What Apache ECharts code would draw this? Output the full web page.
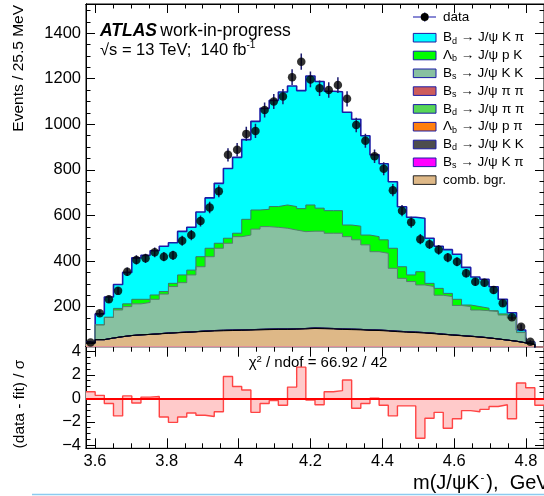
<!DOCTYPE html>
<html>
<head>
<meta charset="utf-8">
<script src="https://cdn.jsdelivr.net/npm/echarts@6/dist/echarts.min.js"></script>
<style>
html,body{margin:0;padding:0;background:#fff;}
#chart{width:544px;height:496px;}
</style>
</head>
<body>
<div id="chart"></div>
<script>
// Binning of m(J/psi K-) in GeV: 50 bins of 25.5 MeV
const binLow = 3.575;
const binWidth = 0.0255;

// Observed events per bin
const data = [42,171,232,269,353,405,412,438,419,425, 489,514,576,635,706,866,888,958,971,1063,
  1100,1122,1207,1275,1197,1158,1151,1172,1112,997, 928,860,805,711,621,570,496,474,449,415,
  397,346,309,305,273,215,153,112,46,12];

// Fit components (events per bin), listed from the bottom of the stack up
const combBgr = [40,55,62,68,73,76,78,80,83,85, 87,89,91,93,94,95,96,97,98,99,
  100,100,101,102,104,103,102,100,99,98, 96,95,93,90,88,86,84,81,78,75,
  72,69,66,62,58,53,48,41,34,14];
const bsKpi = [0,0,0,0,0,0,0,1,1,1, 1,1,1,1,1,1,1,1,1,1, 1,1,1,1,1,1,1,1,1,1,
  1,1,1,1,1,1,1,1,1,1, 1,1,1,1,0,0,0,0,0,0];
const bdKK = [0,0,0,0,0,0,0,0,0,0, 0,0,1,1,1,1,1,1,1,1, 1,1,1,1,1,1,1,1,1,1,
  1,1,1,1,1,1,1,1,0,0, 0,0,0,0,0,0,0,0,0,0];
const lbPpi = [0,0,0,0,0,0,0,0,0,0, 0,0,0,0,0,0,0,0,0,0, 0,0,0,0,0,0,0,0,0,0,
  0,0,0,0,0,0,0,0,0,0, 0,0,0,0,0,0,0,0,0,0];
const bdPipi = [0,0,0,0,0,0,0,0,0,0, 0,0,0,0,0,0,0,0,0,0, 0,0,0,0,0,0,0,0,0,0,
  0,0,0,0,0,0,0,0,0,0, 0,0,0,0,0,0,0,0,0,0];
const bsPipi = [0,0,0,0,0,0,0,0,0,0, 0,0,0,0,0,0,0,0,0,0, 0,0,0,0,0,0,0,0,0,0,
  0,0,0,0,0,0,0,0,0,0, 0,0,0,0,0,0,0,0,0,0];
const bsKK = [2,65,91,117,127,136,140,151,171,202, 217,249,282,324,360,381,409,415,440,450,
  446,442,433,425,425,426,418,420,406,393, 373,344,339,276,234,222,209,205,171,168,
  132,130,118,119,120,110,101,45,6,0];
const lbPK = [0,0,0,7,12,20,14,19,11,14, 34,21,44,37,22,22,15,69,84,76,
  91,102,103,101,115,101,99,99,51,60, 43,66,59,88,51,29,58,14,30,14,
  27,7,15,11,4,5,3,2,1,0];
const bdKpi = [2,48,89,105,138,182,193,194,199,178, 191,188,196,221,263,306,333,350,389,443,
  466,496,529,518,566,556,524,522,495,469, 436,359,334,292,263,253,235,198,185,192,
  198,165,130,127,105,64,21,9,3,0];

// Pull per bin: (data - fit) / sigma
const pull = [0.55,0.25,-0.45,-1.5,0.2,-0.4,0.1,0.15,-1.6,-2.05, -1.6,-1.25,-1.45,-1.55,-1.15,1.85,1.0,0.7,-1.2,-0.45,
  -0.2,-0.6,0.95,2.65,-0.15,-0.55,0.55,0.65,1.55,-0.85, -0.45,0.0,-0.6,-1.5,-0.65,-0.65,-3.4,-1.7,-1.2,-2.55,
  -1.75,-1.05,-1.15,-0.95,-0.7,-0.55,-1.75,1.3,0.9,-0.6];

// Axis ticks
const xMajor = [3.6,3.8,4.0,4.2,4.4,4.6,4.8];
const xMinor = [3.65,3.7,3.75,3.85,3.9,3.95,4.05,4.1,4.15,4.25,4.3,4.35,4.45,4.5,4.55,4.65,4.7,4.75,4.85];
const yMajor = [200,400,600,800,1000,1200,1400];
const yMinor = [50,100,150,250,300,350,450,500,550,650,700,750,850,900,950,1050,1100,1150,1250,1300,1350,1450,1500];
const pullMajor = [-4,-2,0,2,4];
const pullMinor = [-3.5,-3,-2.5,-1.5,-1,-0.5,0.5,1,1.5,2.5,3,3.5];

const xMin = binLow, xMax = binLow + data.length * binWidth;
const yMin = 24, yMax = 1528;
const pMin = -4.26, pMax = 4.39;

const FONT = 'Liberation Sans, Arial, Helvetica, sans-serif';

// histogram as step points on bin edges
function steps(vals) {
  const pts = vals.map((v, i) => [binLow + i * binWidth, v]);
  pts.push([binLow + vals.length * binWidth, vals[vals.length - 1]]);
  return pts;
}

const gridTop = {left: 86, top: 4, width: 460.5, height: 342.7};
const gridPull = {left: 86, top: 346.7, width: 460.5, height: 101.6};

function axis(grid, pos, min, max, ticks, len, label) {
  return {
    type: 'value', gridIndex: grid, position: pos, min: min, max: max,
    splitLine: {show: false},
    axisLine: {show: true, onZero: false, lineStyle: {color: '#000', width: 1}},
    axisTick: {show: true, inside: true, length: len, customValues: ticks, lineStyle: {color: '#000', width: 1}},
    axisLabel: label ? Object.assign({show: true, customValues: ticks, color: '#000', fontFamily: FONT}, label) : {show: false}
  };
}

const xAxes = [
  axis(0, 'bottom', xMin, xMax, xMajor, 9, null),
  axis(0, 'top', xMin, xMax, xMajor, 9, null),
  axis(1, 'bottom', xMin, xMax, xMinor, 4.5, null),
  axis(1, 'top', xMin, xMax, xMinor, 4.5, null),
  axis(2, 'bottom', xMin, xMax, xMajor, 10, {fontSize: 16.5, margin: 5,
    formatter: v => String(Number(v.toFixed(2)))}),
  axis(2, 'top', xMin, xMax, xMajor, 10, null),
  axis(3, 'bottom', xMin, xMax, xMinor, 5, null),
  axis(3, 'top', xMin, xMax, xMinor, 5, null)
];
const yAxes = [
  axis(0, 'left', yMin, yMax, yMajor, 9, {fontSize: 16.5, margin: 5, formatter: v => String(v)}),
  axis(0, 'right', yMin, yMax, yMajor, 9, null),
  axis(1, 'left', yMin, yMax, yMinor, 4.5, null),
  axis(1, 'right', yMin, yMax, yMinor, 4.5, null),
  axis(2, 'left', pMin, pMax, pullMajor, 9, {fontSize: 16.5, margin: 5,
    formatter: v => String(v).replace('-', '\u2212')}),
  axis(2, 'right', pMin, pMax, pullMajor, 9, null),
  axis(3, 'left', pMin, pMax, pullMinor, 4.5, null),
  axis(3, 'right', pMin, pMax, pullMinor, 4.5, null)
];

// fit components, bottom of the stack first
const components = [
  {name: 'comb. bgr.', vals: combBgr, fill: '#deb887', line: '#000000'},
  {name: 'Bs Kpi', vals: bsKpi, fill: '#ff00ff', line: '#1e1e5a'},
  {name: 'Bd KK', vals: bdKK, fill: '#4d4d4d', line: '#1e1e5a'},
  {name: 'Lb ppi', vals: lbPpi, fill: '#ff7f0e', line: '#1e1e5a'},
  {name: 'Bd pipi', vals: bdPipi, fill: '#57d657', line: '#1e1e5a'},
  {name: 'Bs pipi', vals: bsPipi, fill: '#cd5c5c', line: '#1e1e5a'},
  {name: 'Bs KK', vals: bsKK, fill: '#88c1a1', line: '#557f6c'},
  {name: 'Lb pK', vals: lbPK, fill: '#00ff00', line: '#3d7568'},
  {name: 'Bd Kpi', vals: bdKpi, fill: '#00ffff', line: '#1c1ca6'}
];

// running sums give the upper edge of each layer in the stack
let running = combBgr.map(() => 0);
components.forEach(c => {
  running = running.map((s, i) => s + c.vals[i]);
  c.top = running.slice();
});

// upper layers first, so every lower layer is painted over them
const series = components.slice().reverse().map((c, k) => ({
  type: 'line', name: c.name, xAxisIndex: 0, yAxisIndex: 0,
  data: steps(c.top), step: 'end', symbol: 'none',
  lineStyle: {color: c.line, width: k === 0 ? 1.6 : 1},
  areaStyle: {color: c.fill, opacity: 1, origin: 'auto'},
  z: 2, animation: false, silent: true
}));

// data points with Poisson error bars
series.push({
  type: 'custom', name: 'data-err', xAxisIndex: 0, yAxisIndex: 0, clip: true,
  data: data.map((n, i) => [binLow + (i + 0.5) * binWidth, n, Math.sqrt(n)]),
  renderItem: (params, api) => {
    const x = api.value(0), y = api.value(1), e = api.value(2);
    const a = api.coord([x, y - e]), b = api.coord([x, y + e]);
    return {type: 'line', shape: {x1: a[0], y1: a[1], x2: b[0], y2: b[1]},
      style: {stroke: '#1b1b70', lineWidth: 1.5}};
  },
  z: 4, animation: false, silent: true
});
series.push({
  type: 'scatter', name: 'data', xAxisIndex: 0, yAxisIndex: 0, clip: true,
  data: data.map((n, i) => [binLow + (i + 0.5) * binWidth, n]),
  symbol: 'circle', symbolSize: 8.5, itemStyle: {color: '#000'},
  z: 5, animation: false, silent: true
});

// pull histogram
series.push({
  type: 'line', name: 'pull', xAxisIndex: 4, yAxisIndex: 4,
  data: steps(pull), step: 'end', symbol: 'none',
  lineStyle: {color: '#ff4444', width: 1.4},
  areaStyle: {color: '#ffcaca', opacity: 1, origin: 'auto'},
  markLine: {silent: true, symbol: 'none', animation: false,
    label: {show: false}, lineStyle: {color: '#ff0000', width: 2, type: 'solid'},
    data: [{yAxis: 0}]},
  z: 2, animation: false, silent: true
});

// legend drawn as graphic rows
const legendRows = [
  {t: '{n|B}{s|d}{n| \u2192 J/\u03c8 K \u03c0}', fill: '#00ffff', line: '#1c1ca6'},
  {t: '{n|\u039b}{s|b}{n| \u2192 J/\u03c8 p K}', fill: '#00ff00', line: '#1c1ca6'},
  {t: '{n|B}{s|s}{n| \u2192 J/\u03c8 K K}', fill: '#88c1a1', line: '#1c1ca6'},
  {t: '{n|B}{s|s}{n| \u2192 J/\u03c8 \u03c0 \u03c0}', fill: '#cd5c5c', line: '#1c1ca6'},
  {t: '{n|B}{s|d}{n| \u2192 J/\u03c8 \u03c0 \u03c0}', fill: '#57d657', line: '#1c1ca6'},
  {t: '{n|\u039b}{s|b}{n| \u2192 J/\u03c8 p \u03c0}', fill: '#ff7f0e', line: '#1c1ca6'},
  {t: '{n|B}{s|d}{n| \u2192 J/\u03c8 K K}', fill: '#4d4d4d', line: '#1c1ca6'},
  {t: '{n|B}{s|s}{n| \u2192 J/\u03c8 K \u03c0}', fill: '#ff00ff', line: '#1c1ca6'},
  {t: '{n|comb. bgr.}', fill: '#deb887', line: '#222222'}
];
const legRich = {
  n: {fontSize: 13.5, fontFamily: FONT, fill: '#000'},
  s: {fontSize: 9, fontFamily: FONT, fill: '#000', padding: [7, 0, 0, 0]}
};
const legendEls = [];
legendEls.push({type: 'line', shape: {x1: 413, y1: 17, x2: 436, y2: 17}, style: {stroke: '#3a3ab8', lineWidth: 1.2}});
legendEls.push({type: 'line', shape: {x1: 424.7, y1: 12.5, x2: 424.7, y2: 21.5}, style: {stroke: '#1b1b70', lineWidth: 1.5}});
legendEls.push({type: 'circle', shape: {cx: 424.7, cy: 17, r: 4}, style: {fill: '#000'}});
legendEls.push({type: 'text', x: 443, y: 17, style: {text: '{n|data}', rich: legRich, verticalAlign: 'middle'}});
legendRows.forEach((r, i) => {
  const cy = 37.7 + i * 17.8;
  legendEls.push({type: 'rect', shape: {x: 413.3, y: cy - 4.3, width: 22.7, height: 8.6},
    style: {fill: r.fill, stroke: r.line, lineWidth: 1}});
  legendEls.push({type: 'text', x: 443, y: cy, style: {text: r.t, rich: legRich, verticalAlign: 'middle'}});
});

const graphics = [
  {type: 'text', x: 100, y: 31, style: {
    text: '{b|ATLAS} {n|work-in-progress}', verticalAlign: 'middle',
    rich: {b: {fontSize: 17.5, fontWeight: 'bold', fontStyle: 'italic', fontFamily: FONT, fill: '#000'},
           n: {fontSize: 17.5, fontFamily: FONT, fill: '#000'}}}},
  {type: 'text', x: 100, y: 50, style: {
    text: '{n|\u221as = 13 TeV;  140 fb}{u|-1}', verticalAlign: 'middle',
    rich: {n: {fontSize: 16.5, fontFamily: FONT, fill: '#000'},
           u: {fontSize: 10, fontFamily: FONT, fill: '#000', padding: [0, 0, 10, 0]}}}},
  {type: 'text', x: 318, y: 363, style: {
    text: '{n|\u03c7}{u|2}{n| / ndof = 66.92 / 42}', align: 'center', verticalAlign: 'middle',
    rich: {n: {fontSize: 15, fontFamily: FONT, fill: '#000'},
           u: {fontSize: 9.5, fontFamily: FONT, fill: '#000', padding: [0, 0, 8, 0]}}}},
  {type: 'text', x: 413, y: 483, style: {
    text: '{n|m(J/\u03c8K}{u|-}{n|),  GeV}', align: 'left', verticalAlign: 'middle',
    rich: {n: {fontSize: 20, fontFamily: FONT, fill: '#000'},
           u: {fontSize: 11.5, fontFamily: FONT, fill: '#000', padding: [0, 2, 11, 1]}}}},
  {type: 'text', x: 19, y: 5, rotation: Math.PI / 2, style: {
    text: 'Events / 25.5 MeV', align: 'right', verticalAlign: 'middle',
    fontSize: 15.5, fontFamily: FONT, fill: '#000'}},
  {type: 'text', x: 20, y: 404, rotation: Math.PI / 2, style: {
    text: '(data - fit) / \u03c3', align: 'center', verticalAlign: 'middle',
    fontSize: 15.5, fontFamily: FONT, fill: '#000'}},
  {type: 'line', shape: {x1: 32, y1: 494.5, x2: 544, y2: 494.5}, style: {stroke: '#8ccbf0', lineWidth: 1.5}},
  {type: 'group', children: legendEls}
];

const chart = echarts.init(document.getElementById('chart'), null, {renderer: 'canvas'});
chart.setOption({
  animation: false,
  backgroundColor: '#fff',
  textStyle: {fontFamily: FONT},
  grid: [
    Object.assign({show: true, borderColor: '#000', borderWidth: 1, backgroundColor: 'transparent'}, gridTop),
    Object.assign({show: false}, gridTop),
    Object.assign({show: true, borderColor: '#000', borderWidth: 1, backgroundColor: 'transparent'}, gridPull),
    Object.assign({show: false}, gridPull)
  ],
  xAxis: xAxes,
  yAxis: yAxes,
  series: series,
  graphic: graphics
});
</script>
</body>
</html>
